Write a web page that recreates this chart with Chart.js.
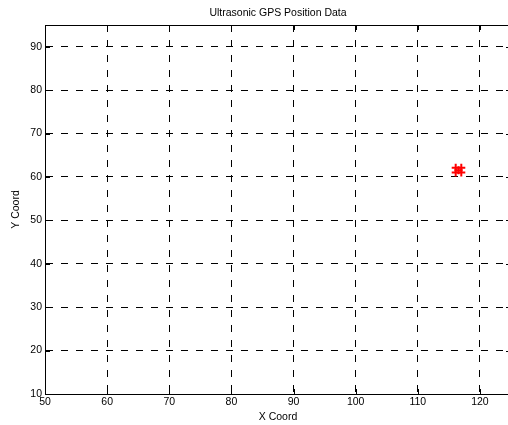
<!DOCTYPE html>
<html>
<head>
<meta charset="utf-8">
<script src="https://cdn.jsdelivr.net/npm/chart.js@4.4.1/dist/chart.umd.min.js"></script>
<style>
html,body{margin:0;padding:0;background:#fff;overflow:hidden;width:508px;height:425px;}
#wrap{position:absolute;left:0;top:0;width:520px;height:425px;}
</style>
</head>
<body>
<div id="wrap"><canvas id="c" width="520" height="425"></canvas></div>
<script>
const chartTitle = 'Ultrasonic GPS Position Data';
const xLabel = 'X Coord';
const yLabel = 'Y Coord';
const xTicks = [50, 60, 70, 80, 90, 100, 110, 120];
const yTicks = [10, 20, 30, 40, 50, 60, 70, 80, 90];
const xRange = [50, 125];
const yRange = [10, 95];
const xValues = [116.1, 116.1, 117.0, 117.0, 116.55];
const yValues = [61.0, 62.1, 61.0, 62.1, 61.55];

const points = xValues.map((x, i) => ({x: x, y: yValues[i]}));
const FONT = 'Liberation Sans, Arial, sans-serif';

const innerTicks = {
  id: 'innerTicks',
  afterDraw(chart) {
    const {ctx, chartArea: a, scales} = chart;
    ctx.save();
    ctx.strokeStyle = '#000';
    ctx.lineWidth = 1;
    ctx.beginPath();
    xTicks.forEach(v => {
      const px = Math.round(scales.x.getPixelForValue(v)) + 0.5;
      ctx.moveTo(px, a.bottom); ctx.lineTo(px, a.bottom - 5);
      ctx.moveTo(px, a.top); ctx.lineTo(px, a.top + 5);
    });
    yTicks.forEach(v => {
      const py = Math.round(scales.y.getPixelForValue(v)) + 0.5;
      ctx.moveTo(a.left, py); ctx.lineTo(a.left + 5, py);
      ctx.moveTo(a.right, py); ctx.lineTo(a.right - 5, py);
    });
    ctx.moveTo(a.left, Math.round(a.top) + 0.5); ctx.lineTo(a.right, Math.round(a.top) + 0.5);
    ctx.moveTo(Math.round(a.right) + 0.5, a.top); ctx.lineTo(Math.round(a.right) + 0.5, a.bottom);
    ctx.stroke();
    ctx.restore();
  }
};

new Chart(document.getElementById('c'), {
  type: 'scatter',
  data: {
    datasets: [{
      data: points,
      pointStyle: 'cross',
      pointRadius: 4,
      pointBorderWidth: 2,
      borderColor: '#ff0000',
      backgroundColor: '#ff0000',
      pointHoverRadius: 4
    }]
  },
  options: {
    responsive: false,
    animation: false,
    events: [],
    layout: {padding: {left: 0, right: 9, top: 0, bottom: 0}},
    plugins: {
      legend: {display: false},
      tooltip: {enabled: false},
      title: {
        display: true,
        text: chartTitle,
        fullSize: false,
        color: '#000',
        font: {family: FONT, size: 10.5, weight: 'normal'},
        padding: {top: 7, bottom: 5.4}
      }
    },
    scales: {
      x: {
        type: 'linear',
        min: xRange[0], max: xRange[1],
        afterBuildTicks: s => { s.ticks = xTicks.map(v => ({value: v})); },
        afterFit: s => { s.height = 31; },
        ticks: {color: '#000', font: {family: FONT, size: 10.5}, padding: 2, maxRotation: 0,
                callback: v => String(v)},
        grid: {color: '#000', lineWidth: 1, drawTicks: false},
        border: {display: true, color: '#000', width: 1, dash: [7, 8]},
        title: {display: true, text: xLabel, color: '#000', font: {family: FONT, size: 10.5}, padding: {top: 0, bottom: 2}}
      },
      y: {
        type: 'linear',
        min: yRange[0], max: yRange[1],
        afterBuildTicks: s => { s.ticks = yTicks.map(v => ({value: v})); },
        afterFit: s => { s.width = 45; },
        ticks: {color: '#000', font: {family: FONT, size: 10.5}, padding: 3,
                callback: v => String(v)},
        grid: {color: '#000', lineWidth: 1, drawTicks: false},
        border: {display: true, color: '#000', width: 1, dash: [7, 8]},
        title: {display: true, text: yLabel, color: '#000', font: {family: FONT, size: 10.5}, padding: {top: 10, bottom: 0}}
      }
    }
  },
  plugins: [innerTicks]
});
</script>
</body>
</html>
